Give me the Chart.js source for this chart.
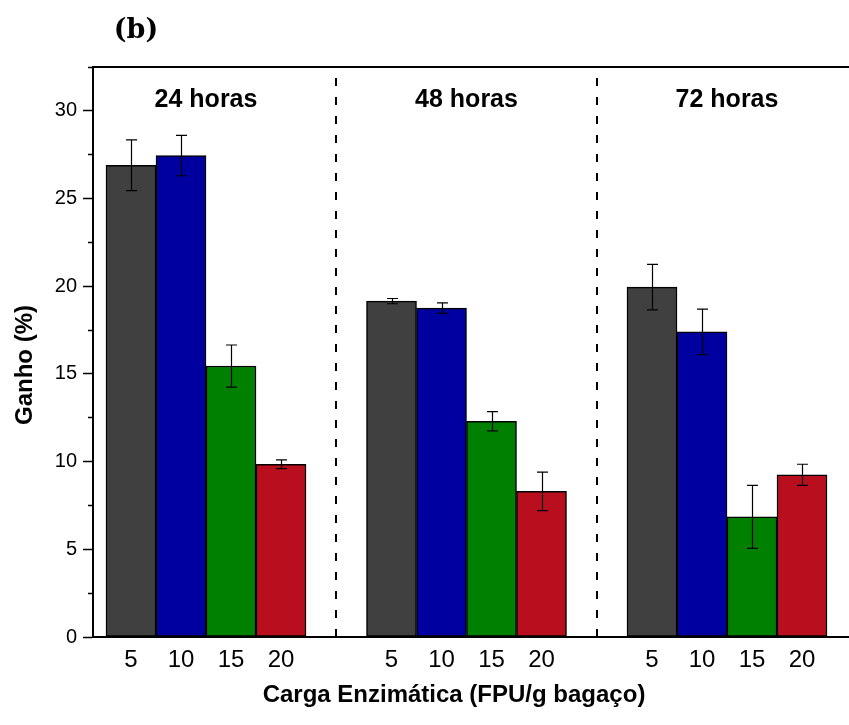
<!DOCTYPE html>
<html>
<head>
<meta charset="utf-8">
<script src="https://cdn.jsdelivr.net/npm/chart.js@4.4.1/dist/chart.umd.min.js"></script>
<style>
  html, body { margin: 0; padding: 0; background: #fff; overflow: hidden; }
</style>
</head>
<body>
<canvas id="myChart" width="849" height="725"></canvas>
<script>
// dados (b)
var grupos = ['24 horas', '48 horas', '72 horas'];
var cargas = ['5', '10', '15', '20'];
var ganho_24 = [26.9, 27.45, 15.45, 9.85];
var ganho_48 = [19.15, 18.75, 12.3, 8.3];
var ganho_72 = [19.95, 17.4, 6.85, 9.25];
var erro_24 = [1.45, 1.15, 1.2, 0.25];
var erro_48 = [0.15, 0.3, 0.55, 1.1];
var erro_72 = [1.3, 1.3, 1.8, 0.6];
var cores = ['#404040', '#0000a0', '#008000', '#b90e1e'];

// layout do eixo x: cada barra ocupa 1 unidade, grupos separados por 5.21
var passoGrupo = 5.21;
var ganhos = [ganho_24, ganho_48, ganho_72];
var erros = [erro_24, erro_48, erro_72];

var pontos = [], barCores = [], barErros = [], posicoes = [];
for (var g = 0; g < grupos.length; g++) {
  for (var i = 0; i < cargas.length; i++) {
    var px = g * passoGrupo + i;
    posicoes.push(px);
    pontos.push({ x: px, y: ganhos[g][i] });
    barCores.push(cores[i]);
    barErros.push(erros[g][i]);
  }
}

const extras = {
  id: 'extras',
  beforeDatasetsDraw(chart) {
    const ctx = chart.ctx, a = chart.chartArea, xs = chart.scales.x;
    ctx.save();
    // linhas tracejadas entre os grupos
    ctx.strokeStyle = '#000';
    ctx.lineWidth = 2;
    ctx.setLineDash([8, 11]);
    for (var g = 0; g < grupos.length - 1; g++) {
      var xv = g * passoGrupo + 3 + (passoGrupo - 3) / 2;
      var xp = Math.round(xs.getPixelForValue(xv));
      ctx.beginPath();
      ctx.moveTo(xp, a.bottom);
      ctx.lineTo(xp, a.top);
      ctx.stroke();
    }
    ctx.setLineDash([]);
    // borda superior
    ctx.beginPath();
    ctx.moveTo(a.left - 1, a.top);
    ctx.lineTo(a.right, a.top);
    ctx.stroke();
    ctx.restore();
  },
  afterDatasetsDraw(chart) {
    const ctx = chart.ctx, ys = chart.scales.y, xs = chart.scales.x;
    const meta = chart.getDatasetMeta(0);
    ctx.save();
    ctx.strokeStyle = '#000';
    ctx.lineWidth = 1.2;
    meta.data.forEach(function (bar, k) {
      var v = pontos[k].y, e = barErros[k];
      var x = Math.round(bar.x) + 0.5;
      var yt = ys.getPixelForValue(v + e), yb = ys.getPixelForValue(v - e);
      ctx.beginPath();
      ctx.moveTo(x, yt); ctx.lineTo(x, yb);
      ctx.moveTo(x - 5.5, yt); ctx.lineTo(x + 5.5, yt);
      ctx.moveTo(x - 5.5, yb); ctx.lineTo(x + 5.5, yb);
      ctx.stroke();
    });
    // rotulos dos grupos
    ctx.fillStyle = '#000';
    ctx.font = 'bold 25px "Liberation Sans", Arial, sans-serif';
    ctx.textAlign = 'center';
    ctx.textBaseline = 'alphabetic';
    grupos.forEach(function (lab, g) {
      ctx.fillText(lab, xs.getPixelForValue(g * passoGrupo + 1.5), 107);
    });
    ctx.restore();
  },
  afterDraw(chart) {
    const ctx = chart.ctx;
    ctx.save();
    ctx.fillStyle = '#000';
    ctx.textAlign = 'center';
    ctx.font = 'bold 27px "DejaVu Serif", serif';
    ctx.textBaseline = 'middle';
    ctx.fillText('(b)', 136, 31);
    ctx.textBaseline = 'alphabetic';
    ctx.font = 'bold 24px "Liberation Sans", Arial, sans-serif';
    ctx.fillText('Carga Enzimática (FPU/g bagaço)', 454, 702);
    ctx.translate(32, 365);
    ctx.rotate(-Math.PI / 2);
    ctx.fillText('Ganho (%)', 0, 0);
    ctx.restore();
  }
};

new Chart(document.getElementById('myChart'), {
  type: 'bar',
  data: {
    datasets: [{
      data: pontos,
      backgroundColor: barCores,
      borderColor: '#000',
      borderWidth: 1.5,
      borderSkipped: false,
      barPercentage: 1,
      categoryPercentage: 1
    }]
  },
  options: {
    responsive: false,
    animation: false,
    devicePixelRatio: 1,
    layout: { padding: { top: 67, left: 0, right: 0, bottom: 0 } },
    plugins: { legend: { display: false }, tooltip: { enabled: false } },
    scales: {
      x: {
        type: 'linear',
        offset: false,
        min: -0.76,
        max: 14.36,
        afterBuildTicks: function (scale) {
          scale.ticks = posicoes.map(function (v) { return { value: v }; });
        },
        afterFit: function (scale) { scale.height = 88; },
        grid: { display: false, drawTicks: false },
        border: { display: true, color: '#000', width: 2 },
        ticks: {
          autoSkip: false,
          maxRotation: 0,
          padding: 9,
          color: '#000',
          font: { family: '"Liberation Sans", Arial, sans-serif', size: 24 },
          callback: function (value, index) { return cargas[index % cargas.length]; }
        }
      },
      y: {
        min: 0,
        max: 32.5,
        afterFit: function (scale) { scale.width = 93; },
        grid: {
          drawOnChartArea: false,
          drawTicks: true,
          tickLength: 10,
          tickColor: '#000',
          tickWidth: 1.5,
          // ticks menores: so os 5 px junto ao eixo
          tickBorderDash: function (c) { return (c.tick && c.tick.value % 5 !== 0) ? [0, 5, 5, 100] : []; }
        },
        border: { display: true, color: '#000', width: 2 },
        ticks: {
          stepSize: 2.5,
          padding: 6,
          color: '#000',
          font: { family: '"Liberation Sans", Arial, sans-serif', size: 20 },
          callback: function (value) { return value % 5 === 0 ? value : ''; }
        }
      }
    }
  },
  plugins: [extras]
});
</script>
</body>
</html>
